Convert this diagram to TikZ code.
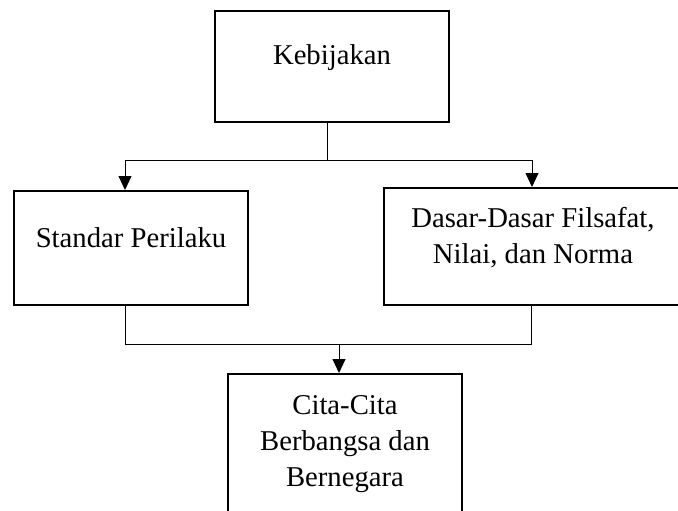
\documentclass[tikz,border=0pt]{standalone}
\usepackage{fontspec}
\setmainfont{Liberation Serif}
\usetikzlibrary{arrows.meta}
\begin{document}
\begin{tikzpicture}[x=1pt,y=-1pt,
        box/.style={draw=black,line width=2pt,inner sep=0pt,anchor=north west,
            align=center,font=\fontsize{28.7}{36}\selectfont},
        link/.style={draw=black,line width=0.9pt},
        arr/.style={link,-{Triangle[length=14pt,width=13pt]}}]
        \clip (0,0) rectangle (678,511);
        \node[box,minimum width=234,text height=54,text depth=57] (keb) at (214,10) {Kebijakan};
        \node[box,minimum width=234,text height=56,text depth=58] (std) at (13,190) {Standar Perilaku};
        \node[box,minimum width=298,text height=75,text depth=42] (dsr) at (383,187) {Dasar-Dasar Filsafat,\\Nilai, dan Norma};
        \node[box,minimum width=234,text height=112,text depth=35] (cit) at (227,373) {Cita-Cita\\Berbangsa dan\\Bernegara};

        \coordinate (k1) at (327,160);
        \coordinate (l1) at (125,160);
        \coordinate (r1) at (532,160);
        \coordinate (l2) at (125,344);
        \coordinate (r2) at (531,344);
        \coordinate (m2) at (339,344);

        \path [link] (k1 |- keb.south) -- (k1);
        \path [link] (l1) -- (r1);
        \path [arr] (l1) -- (l1 |- std.north);
        \path [arr] (r1) -- (r1 |- dsr.north);
        \path [link] (l2 |- std.south) -- (l2) -- (r2) -- (r2 |- dsr.south);
        \path [arr] (m2) -- (m2 |- cit.north);
    \end{tikzpicture}
\end{document}
